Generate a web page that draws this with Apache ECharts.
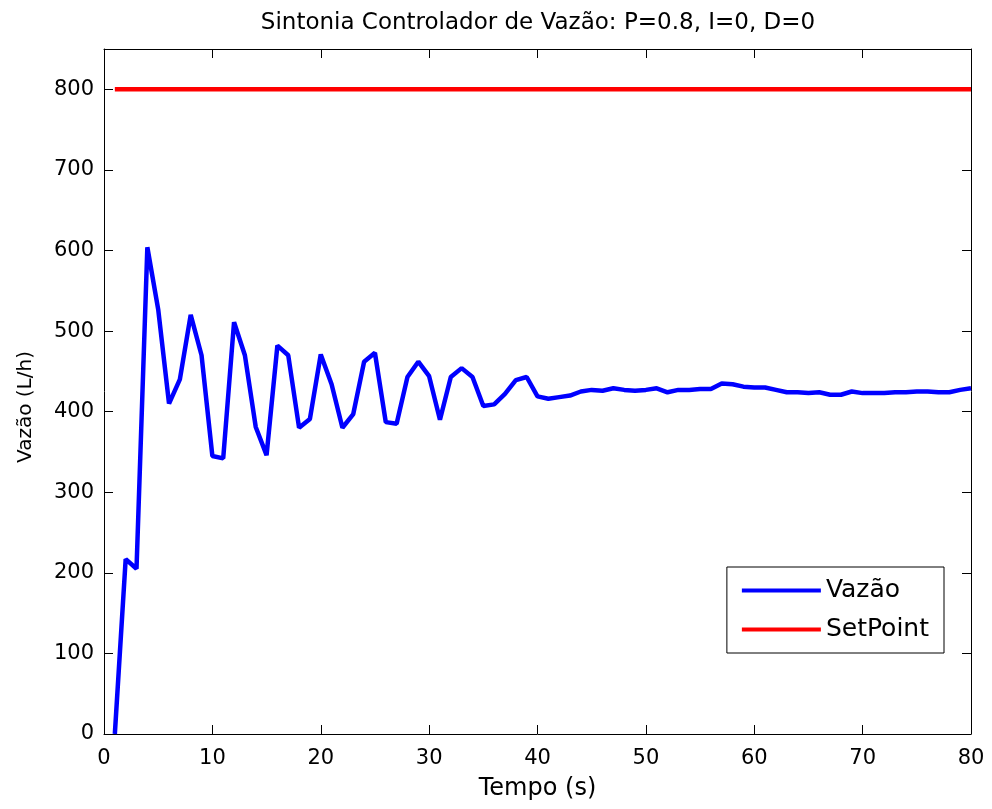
<!DOCTYPE html>
<html><head><meta charset="utf-8">
<script src="https://cdn.jsdelivr.net/npm/echarts@6/dist/echarts.min.js"></script>
<style>html,body{margin:0;padding:0;background:#fff}#c{width:992px;height:809px}</style>
</head><body><div id="c"></div>
<script>
const tempo = [];
for (let t = 1; t <= 80; t++) tempo.push(t);
const vazao = [0,217,205,604,527,410,440,520,470,345,342,511,470,381,346,482,470,380,391,471,
434,380,397,462,473,387,385,443,462,444,390,443,454,443,407,409,422,439,443,419,
416,418,420,425,427,426,429,427,426,427,429,424,427,427,428,428,435,434,431,430,
430,427,424,424,423,424,421,421,425,423,423,423,424,424,425,425,424,424,427,429];
const setPoint = tempo.map(() => 800);
const xTicks = [0,10,20,30,40,50,60,70,80];
const yTicks = [0,100,200,300,400,500,600,700,800];

const font = 'DejaVu Sans, Liberation Sans, sans-serif';
const chart = echarts.init(document.getElementById('c'), null, {renderer:'canvas'});
const axisCommon = {
  axisLine:{show:true,onZero:false,lineStyle:{color:'#000',width:1}},
  axisTick:{show:true,inside:true,length:9,lineStyle:{color:'#000',width:1}},
  splitLine:{show:false}
};
chart.setOption({
  animation:false,
  backgroundColor:'#fff',
  title:{text:'Sintonia Controlador de Vazão: P=0.8, I=0, D=0',left:533,top:7,textAlign:'center',
    textStyle:{fontFamily:font,fontSize:23,fontWeight:'normal',color:'#000'}},
  grid:{left:104,right:21,top:49,bottom:75,containLabel:false},
  legend:{orient:'vertical',right:48,top:567,padding:[11,15,11,15],itemGap:14,
    itemWidth:79,itemHeight:4,icon:'rect',backgroundColor:'#fff',borderColor:'#000',borderWidth:1,borderRadius:0,
    textStyle:{fontFamily:font,fontSize:25,lineHeight:25,color:'#000'},data:['Vazão','SetPoint']},
  graphic:[{type:'text',x:26,y:407,rotation:Math.PI/2,
    style:{text:'Vazão (L/h)',font:'20px DejaVu Sans',fill:'#000',align:'center',verticalAlign:'middle'}}],
  xAxis:[
    Object.assign({type:'value',min:0,max:80,interval:10,position:'bottom',
      name:'Tempo (s)',nameLocation:'middle',nameGap:43,
      nameTextStyle:{fontFamily:font,fontSize:24,color:'#000'},
      axisLabel:{fontFamily:font,fontSize:21,color:'#000',margin:14,
        formatter:v=>xTicks.includes(v)?String(v):''}},axisCommon),
    Object.assign({type:'value',min:0,max:80,interval:10,position:'top',axisLabel:{show:false}},axisCommon)
  ],
  yAxis:[
    Object.assign({type:'value',min:0,max:850,interval:100,position:'left',
      axisLabel:{fontFamily:font,fontSize:21,color:'#000',margin:10,
        formatter:v=>yTicks.includes(v)?String(v):''}},axisCommon),
    Object.assign({type:'value',min:0,max:850,interval:100,position:'right',axisLabel:{show:false}},axisCommon)
  ],
  series:[
    {name:'Vazão',type:'line',data:tempo.map((t,i)=>[t,vazao[i]]),showSymbol:false,
      lineStyle:{color:'#0000ff',width:4.5},itemStyle:{color:'#0000ff'},clip:true},
    {name:'SetPoint',type:'line',data:tempo.map((t,i)=>[t,setPoint[i]]),showSymbol:false,
      lineStyle:{color:'#ff0000',width:4.5},itemStyle:{color:'#ff0000'}}
  ]
});
</script></body></html>
